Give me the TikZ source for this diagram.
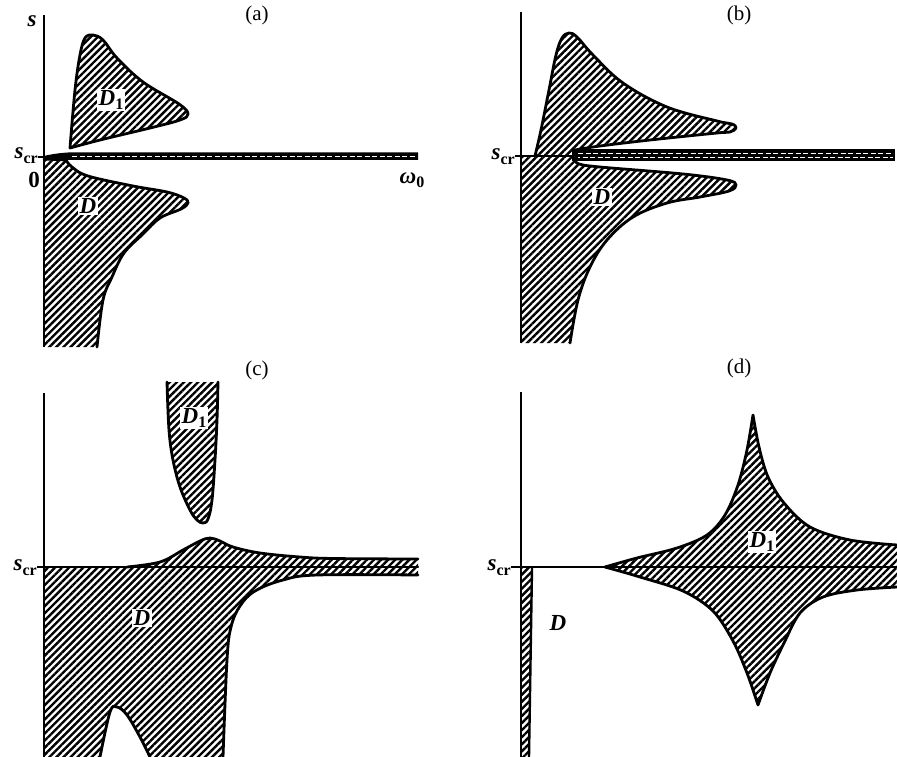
\documentclass[tikz,border=0pt]{standalone}
\usepackage{fontspec}
\setmainfont{Liberation Serif}
\usetikzlibrary{patterns.meta}
\tikzset{
  hatchfill/.style={pattern={Lines[angle=45,distance=5pt,line width=2.4pt]}, pattern color=black},
  rim/.style={line width=2.8pt, line join=round, line cap=round},
  axisline/.style={line width=1.4pt},
  lbl/.style={font=\fontsize{23}{26}\selectfont\bfseries, inner sep=1pt},
  titlelbl/.style={font=\fontsize{21}{24}\selectfont, inner sep=0pt},
  dlbl/.style={lbl, fill=white, inner sep=1.5pt},
  bandfill/.style={fill=black},
  banddash/.style={white, dash pattern=on 5pt off 2.5pt},
}
\newcommand{\scr}{\textit{s}\raisebox{-0.45ex}{\fontsize{16}{16}\selectfont cr}}
\newcommand{\Done}{\textit{D}\raisebox{-0.4ex}{\fontsize{16}{16}\selectfont 1}}
\begin{document}
\begin{tikzpicture}[x=1pt,y=-1pt]
\useasboundingbox (0,0) rectangle (897,757);

% ================= (a) =================
\node[titlelbl] (ta) at (257,15) {(a)};
% D region
\fill[hatchfill] (44,159) -- (66,160)
  -- plot[smooth,tension=0.6] coordinates {(66,160) (72,167) (88,176) (133,186) (167,192) (184,198) (188,203) (181,209) (160,218) (143,234) (124,253) (112,277) (103,300) (97,347)}
  -- (44,347) -- cycle;
\draw[rim] (44,159) -- (66,160)
  -- plot[smooth,tension=0.6] coordinates {(66,160) (72,167) (88,176) (133,186) (167,192) (184,198) (188,203) (181,209) (160,218) (143,234) (124,253) (112,277) (103,300) (97,347)};
% D1 region
\draw[rim, hatchfill] plot[smooth,tension=0.6] coordinates {(70,148) (100,140) (150,128) (180,120) (188,114) (179,104) (143,82) (117,58) (103,40) (93,35) (85,38) (80,55) (75,90) (70,148)} -- cycle;
% band
\fill[bandfill] (44,156) .. controls (52,154) and (60,153) .. (68,152.5) -- (418,152.5) -- (418,160) -- (44,160) -- cycle;
\draw[banddash, line width=1.5pt] (72,156.3) -- (416,156.3);
% axis
\draw[axisline] (44,15) -- (44,347);
\draw[axisline] (38,157) -- (44,157);
\node[lbl, anchor=center] (sa) at (32,21) {\textit{s}};
\node[lbl, anchor=east] (scra) at (39,156) {\scr};
\node[lbl] (za) at (34,180) {0};
\node[lbl] (wa) at (412,180) {\textit{ω}\raisebox{-0.4ex}{\fontsize{16}{16}\selectfont 0}};
\node[dlbl] (d1a) at (111,100) {\Done};
\node[dlbl] (da) at (88,206) {\textit{D}};

% ================= (b) =================
\node[titlelbl] (tb) at (739,15) {(b)};
\fill[hatchfill] (521,156) -- (535,156)
  -- plot[smooth,tension=0.6] coordinates {(535,156) (541,130) (549,90) (556,55) (562,38) (569,33) (577,37) (593,55) (623,83) (667,107) (717,121) (732,124) (736,128) (730,132) (717,133) (650,140) (600,146) (575,150)}
  -- (575,160)
  -- plot[smooth,tension=0.6] coordinates {(575,160) (579,164) (600,167) (683,174) (727,180) (736,185) (729,191) (700,197) (667,203) (633,217) (607,240) (590,267) (578,300) (570,343)}
  -- (521,343) -- cycle;
\draw[rim] plot[smooth,tension=0.6] coordinates {(535,156) (541,130) (549,90) (556,55) (562,38) (569,33) (577,37) (593,55) (623,83) (667,107) (717,121) (732,124) (736,128) (730,132) (717,133) (650,140) (600,146) (575,150)};
\draw[rim] plot[smooth,tension=0.6] coordinates {(575,160) (579,164) (600,167) (683,174) (727,180) (736,185) (729,191) (700,197) (667,203) (633,217) (607,240) (590,267) (578,300) (570,343)};
% band
\fill[bandfill] (572,149.5) -- (895,149.5) -- (895,161) -- (572,161) -- cycle;
\draw[banddash, line width=1.6pt] (578,153.5) -- (893,153.5);
\draw[banddash, line width=1.6pt, dash phase=3pt] (578,157.5) -- (893,157.5);
\draw[rim, line width=2pt] (521,156) -- (575,156);
% axis
\draw[axisline] (521,12) -- (521,343);
\draw[axisline] (515,156) -- (521,156);
\node[lbl, anchor=east] (scrb) at (516,157) {\scr};
\node[dlbl] (db) at (602,197) {\textit{D}};

% ================= (c) =================
\node[titlelbl] (tc) at (257,370) {(c)};
\fill[hatchfill] (44,567) -- (127,567)
  -- plot[smooth,tension=0.6] coordinates {(127,567) (160,562) (183,550) (200,541) (210,538) (220,541) (233,547) (260,553) (300,557) (333,558.5) (418,559)}
  -- (418,575)
  -- plot[smooth,tension=0.6] coordinates {(418,575) (317,575) (283,580) (255,591) (240,606) (231,627) (227,660) (223,757)}
  -- (150,757)
  -- plot[smooth,tension=0.6] coordinates {(150,757) (140,737) (127,715) (117,707) (110,712) (100,757)}
  -- (44,757) -- cycle;
\draw[rim] plot[smooth,tension=0.6] coordinates {(127,567) (160,562) (183,550) (200,541) (210,538) (220,541) (233,547) (260,553) (300,557) (333,558.5) (418,559)};
\draw[rim] plot[smooth,tension=0.6] coordinates {(418,575) (317,575) (283,580) (255,591) (240,606) (231,627) (227,660) (223,757)};
\draw[rim] plot[smooth,tension=0.6] coordinates {(150,757) (140,737) (127,715) (117,707) (110,712) (100,757)};
\draw[rim, line width=2.4pt] (44,567) -- (418,567);
% D1
\fill[hatchfill] plot[smooth,tension=0.6] coordinates {(167,382) (169,430) (173,460) (180,487) (190,510) (197,520) (203,523) (208,519) (212,500) (215,460) (217,420) (218,382)} -- cycle;
\draw[rim] plot[smooth,tension=0.6] coordinates {(167,382) (169,430) (173,460) (180,487) (190,510) (197,520) (203,523) (208,519) (212,500) (215,460) (217,420) (218,382)};
% axis
\draw[axisline] (44,393) -- (44,757);
\draw[axisline] (37,567) -- (44,567);
\node[lbl, anchor=east] (scrc) at (38,568) {\scr};
\node[dlbl] (d1c) at (194,418) {\Done};
\node[dlbl] (dc) at (142,618) {\textit{D}};

% ================= (d) =================
\node[titlelbl] (td) at (739,368) {(d)};
% strip D
\fill[hatchfill] (521,567) -- (532,567) -- (529,757) -- (521,757) -- cycle;
\draw[rim, line width=2.4pt] (532,568) -- (529,757);
% D1
\fill[hatchfill] plot[smooth,tension=0.55] coordinates {(605,567) (637,558) (677,548) (707,535) (725,515) (738,485) (747,450) (753,415)}
  -- plot[smooth,tension=0.55] coordinates {(753,415) (759,447) (768,477) (784,503) (810,527) (850,540) (897,545)}
  -- (897,587)
  -- plot[smooth,tension=0.55] coordinates {(897,587) (857,590) (823,597) (800,613) (784,643) (770,673) (758,705)}
  -- plot[smooth,tension=0.55] coordinates {(758,705) (747,673) (733,641) (713,611) (683,591) (640,577) (605,567)} -- cycle;
\draw[rim] plot[smooth,tension=0.55] coordinates {(605,567) (637,558) (677,548) (707,535) (725,515) (738,485) (747,450) (753,415)}
  -- plot[smooth,tension=0.55] coordinates {(753,415) (759,447) (768,477) (784,503) (810,527) (850,540) (897,545)};
\draw[rim] plot[smooth,tension=0.55] coordinates {(897,587) (857,590) (823,597) (800,613) (784,643) (770,673) (758,705)}
  -- plot[smooth,tension=0.55] coordinates {(758,705) (747,673) (733,641) (713,611) (683,591) (640,577) (605,567)};
\draw[line width=1.8pt] (521,567) -- (897,567);
% axis
\draw[axisline] (521,392) -- (521,757);
\draw[axisline] (511,567) -- (521,567);
\node[lbl, anchor=east] (scrd) at (512,568) {\scr};
\node[dlbl] (d1d) at (762,542) {\Done};
\node[lbl] (dd) at (558,623) {\textit{D}};
\end{tikzpicture}
\end{document}
